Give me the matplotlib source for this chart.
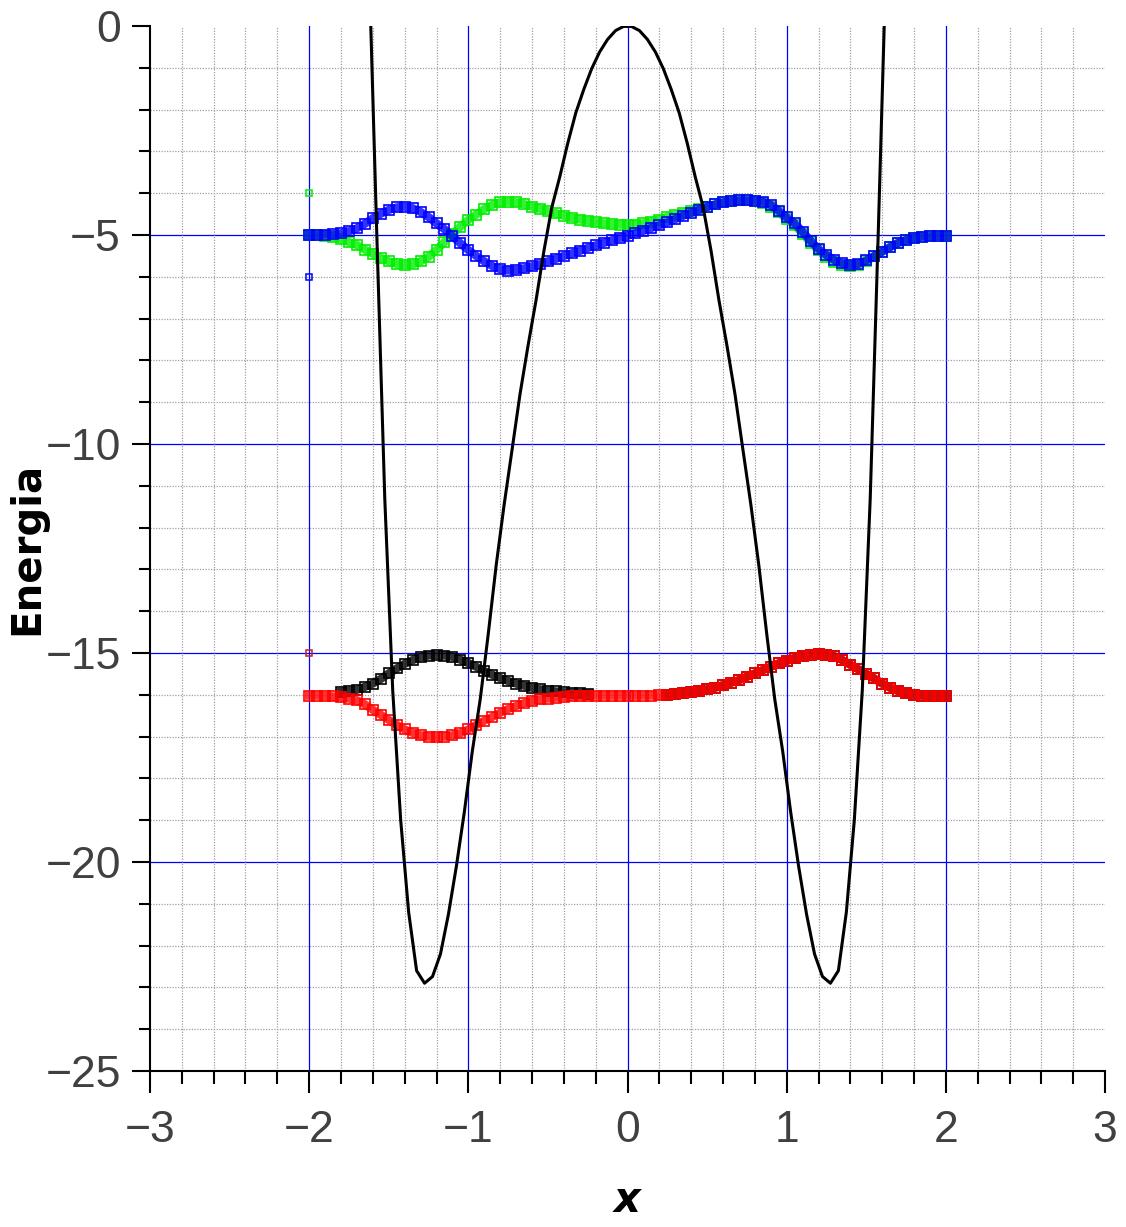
import matplotlib
matplotlib.use('Agg')
from matplotlib import pyplot as plt
from matplotlib.ticker import MultipleLocator

# potential curve (sampled every 0.05, offset by 0.025)
x_pot_half = [0.025, 0.075, 0.125, 0.175, 0.225, 0.275, 0.325, 0.375, 0.425, 0.475,
              0.525, 0.575, 0.625, 0.675, 0.725, 0.775, 0.825, 0.875, 0.925, 0.975,
              1.025, 1.075, 1.125, 1.175, 1.225, 1.275, 1.325, 1.375, 1.425, 1.475,
              1.525, 1.575, 1.625]
v_pot_half = [-0.01, -0.11, -0.32, -0.62, -1.02, -1.52, -2.08, -2.80, -3.60, -4.33,
              -5.38, -6.57, -7.65, -8.80, -10.13, -11.45, -12.90, -14.55, -16.10, -17.35,
              -18.80, -20.10, -21.25, -22.20, -22.74, -22.90, -22.60, -21.20, -19.00, -15.90,
              -11.30, -5.00, 1.60]
x_pot = [-v for v in x_pot_half[::-1]] + x_pot_half
v_pot = v_pot_half[::-1] + v_pot_half

# grid of the wave functions
x_wave = [round(-2.0 + 0.05 * i, 2) for i in range(81)]

green = [-5.00, -5.01, -5.02, -5.05, -5.10, -5.17, -5.24, -5.35, -5.45, -5.55,
         -5.63, -5.69, -5.72, -5.70, -5.63, -5.52, -5.36, -5.17, -4.98, -4.80,
         -4.64, -4.51, -4.38, -4.28, -4.22, -4.20, -4.22, -4.26, -4.32, -4.37,
         -4.43, -4.48, -4.54, -4.59, -4.63, -4.66, -4.70, -4.72, -4.74, -4.75,
         -4.76, -4.75, -4.72, -4.68, -4.63, -4.57, -4.52, -4.47, -4.42, -4.38,
         -4.33, -4.27, -4.22, -4.19, -4.17, -4.17, -4.19, -4.23, -4.32, -4.46,
         -4.62, -4.77, -4.97, -5.18, -5.37, -5.52, -5.64, -5.71, -5.75, -5.72,
         -5.63, -5.51, -5.40, -5.29, -5.19, -5.12, -5.07, -5.04, -5.03, -5.02,
         -5.02]

blue = [-5.00, -5.00, -4.99, -4.98, -4.96, -4.91, -4.84, -4.73, -4.60, -4.49,
        -4.40, -4.34, -4.32, -4.36, -4.45, -4.57, -4.72, -4.86, -5.03, -5.20,
        -5.36, -5.50, -5.63, -5.74, -5.82, -5.85, -5.84, -5.80, -5.75, -5.70,
        -5.63, -5.57, -5.50, -5.44, -5.38, -5.31, -5.25, -5.19, -5.13, -5.07,
        -5.02, -4.96, -4.90, -4.83, -4.77, -4.70, -4.62, -4.54, -4.47, -4.40,
        -4.33, -4.27, -4.22, -4.19, -4.17, -4.17, -4.18, -4.20, -4.28, -4.42,
        -4.58, -4.72, -4.92, -5.14, -5.33, -5.48, -5.60, -5.68, -5.72, -5.69,
        -5.61, -5.50, -5.40, -5.29, -5.19, -5.12, -5.07, -5.04, -5.03, -5.02,
        -5.02]

red = [-16.02, -16.02, -16.03, -16.04, -16.06, -16.09, -16.13, -16.23, -16.36, -16.48,
       -16.60, -16.72, -16.83, -16.91, -16.97, -17.00, -17.01, -17.00, -16.97, -16.92,
       -16.83, -16.72, -16.62, -16.53, -16.43, -16.34, -16.27, -16.20, -16.15, -16.11,
       -16.09, -16.07, -16.05, -16.04, -16.03, -16.02, -16.02, -16.02, -16.02, -16.02,
       -16.02, -16.02, -16.02, -16.02, -16.01, -16.00, -15.98, -15.96, -15.94, -15.91,
       -15.87, -15.83, -15.77, -15.71, -15.65, -15.57, -15.49, -15.41, -15.33, -15.25,
       -15.19, -15.12, -15.07, -15.04, -15.03, -15.04, -15.08, -15.17, -15.28, -15.39,
       -15.50, -15.61, -15.73, -15.83, -15.91, -15.96, -16.00, -16.02, -16.03, -16.03,
       -16.03]

x_black_left = [round(-1.80 + 0.05 * i, 2) for i in range(32)]
black_left = [-15.93, -15.91, -15.88, -15.81, -15.73, -15.62, -15.49, -15.37, -15.26, -15.17,
              -15.10, -15.06, -15.05, -15.06, -15.09, -15.16, -15.24, -15.33, -15.43, -15.52,
              -15.60, -15.67, -15.73, -15.78, -15.83, -15.87, -15.90, -15.92, -15.94, -15.95,
              -15.96, -15.97]
# right part of the black curve lies under the red one
x_black_right = x_wave[45:]
black_right = red[45:]

# starting guesses at x = -2
start_x = [-2.0, -2.0, -2.0]
start_y = [-4.0, -6.0, -15.0]
start_colors = ['#00ee00', '#0000ff', '#c0202a']

fig = plt.figure(figsize=(11.26, 12.27), dpi=100)
ax = fig.add_axes([150 / 1126, 1 - 1071 / 1227, 955 / 1126, 1045 / 1227])

ax.set_xlim(-3, 3)
ax.set_ylim(-25, 0)

# grids
ax.xaxis.set_major_locator(MultipleLocator(1))
ax.xaxis.set_minor_locator(MultipleLocator(0.2))
ax.yaxis.set_major_locator(MultipleLocator(5))
ax.yaxis.set_minor_locator(MultipleLocator(1))
ax.grid(which='minor', color='#a0a0a0', linestyle=(0, (1, 1.2)), linewidth=0.9)
for xv in [-2, -1, 0, 1, 2]:
    ax.axvline(xv, color='#0000ff', lw=0.9, zorder=1)
for yv in [-5, -10, -15, -20]:
    ax.axhline(yv, color='#0000ff', lw=0.9, zorder=1)


def wave(xs, ys, color):
    ax.plot(xs, ys, '-', color=color, lw=6.0, alpha=0.8, zorder=3)
    ax.plot(xs, ys, 's', mfc='none', mec=color, ms=7, mew=1.2, zorder=3)


wave(x_wave, green, '#00ee00')
wave(x_wave, blue, '#0000ff')
wave(x_black_left, black_left, '#000000')
wave(x_black_right, black_right, '#000000')
wave(x_wave, red, '#ff0000')

for sx, sy, c in zip(start_x, start_y, start_colors):
    ax.plot(sx, sy, 's', mfc='none', mec=c, ms=5, mew=1.1, zorder=4)

ax.plot(x_pot, v_pot, '-', color='black', lw=2.2, zorder=5)

# axes styling
for side in ['top', 'right']:
    ax.spines[side].set_visible(False)
for side in ['left', 'bottom']:
    ax.spines[side].set_linewidth(1.5)

label_font = ['Liberation Sans', 'DejaVu Sans']
ax.tick_params(axis='x', which='major', direction='out', length=16, width=1.5, pad=12,
               labelsize=32, labelcolor='#404040')
ax.tick_params(axis='x', which='minor', direction='out', length=9, width=1.5)
ax.tick_params(axis='y', which='major', direction='out', length=13, width=1.5, pad=8,
               labelsize=32, labelcolor='#404040')
ax.tick_params(axis='y', which='minor', direction='out', length=7.7, width=1.5)
for lab in ax.get_xticklabels() + ax.get_yticklabels():
    lab.set_family(label_font)

ax.set_xlabel('x', fontsize=30, fontweight='bold', fontstyle='italic')
ax.set_ylabel('Energia', fontsize=29, fontweight='bold')
ax.yaxis.set_label_coords(-0.108, 0.5)
ax.xaxis.set_label_coords(0.5, -0.103)

fig.savefig('out.png', dpi=100)
